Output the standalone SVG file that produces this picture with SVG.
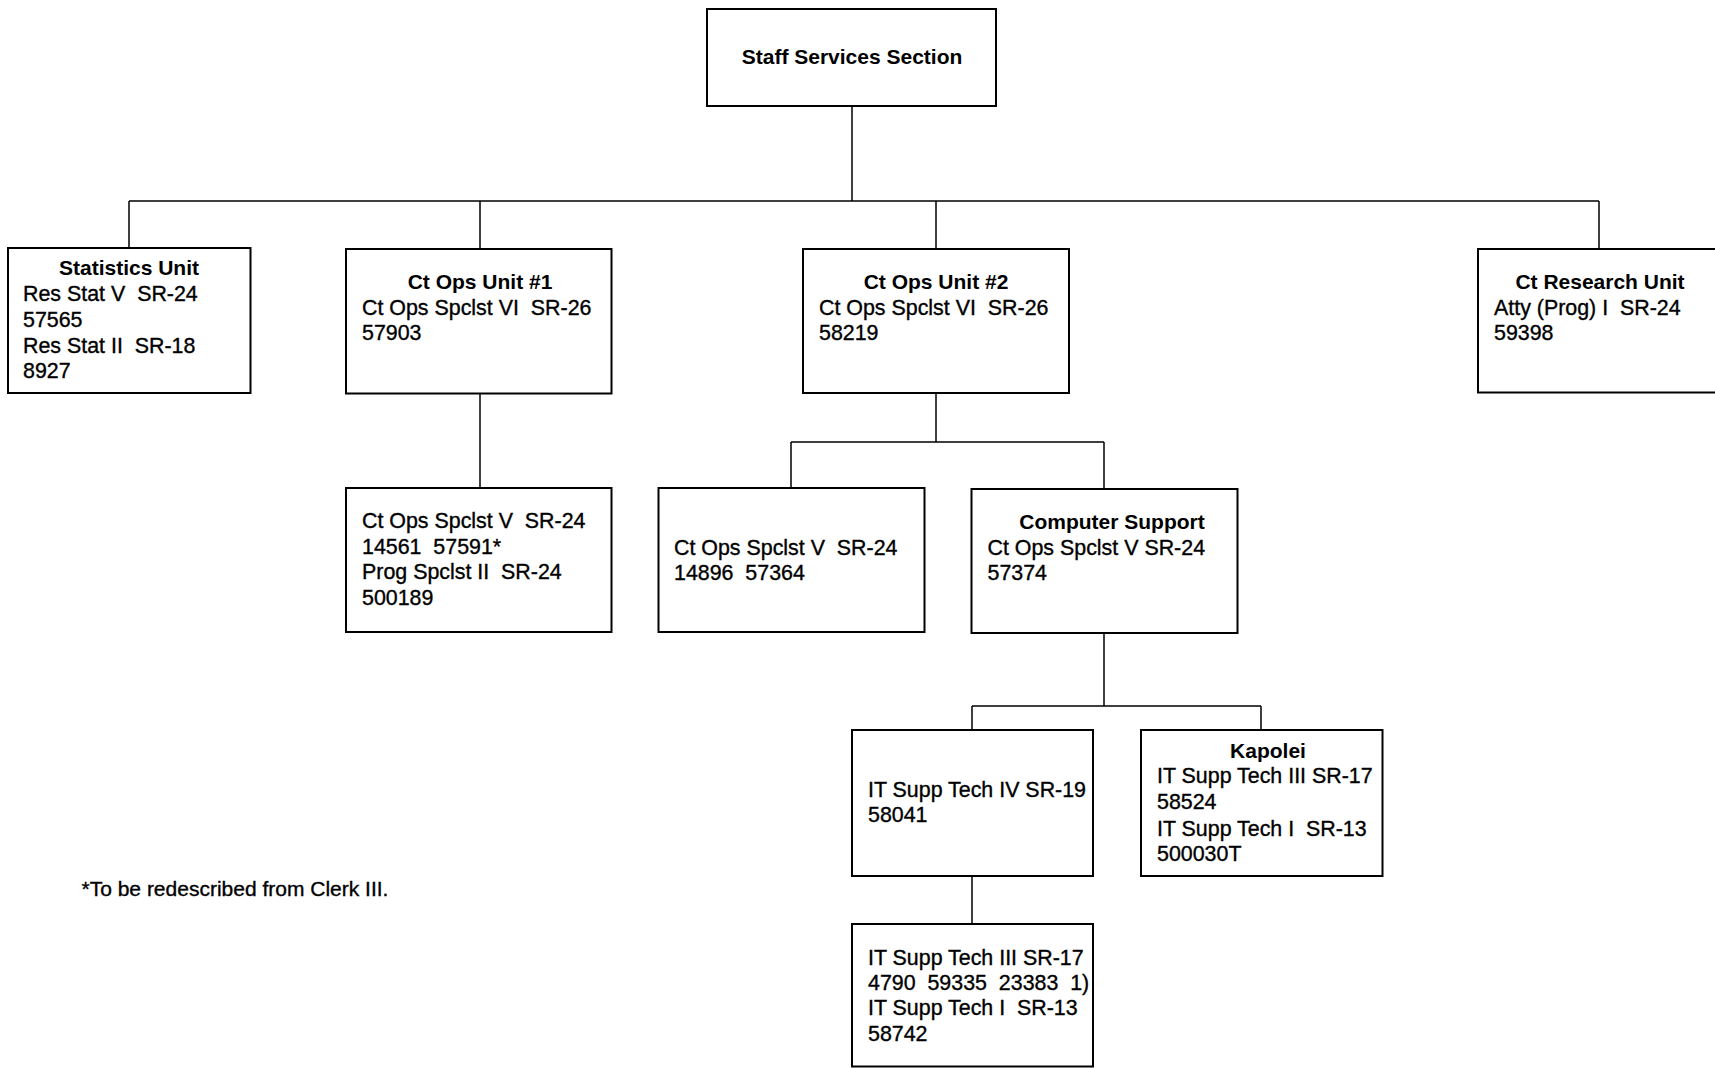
<svg xmlns="http://www.w3.org/2000/svg" width="1715" height="1068" viewBox="0 0 1715 1068" xml:space="preserve">
<style>
  .box { fill: #fff; stroke: #000; stroke-width: 2; }
  .conn { fill: none; stroke: #000; stroke-width: 1.5; }
  text { font-family: "Liberation Sans", Arial, sans-serif; font-size: 21.4px; fill: #000; white-space: pre; }
  .t { font-weight: bold; font-size: 21px; text-anchor: middle; }
  .b { stroke: #000; stroke-width: 0.35; }
  .note { font-size: 21px; }
</style>
<rect x="0" y="0" width="1715" height="1068" fill="#fff"/>
<g id="connectors">
  <path class="conn" d="M852 106 V201 M129 201 H1599 M129 201 V248 M480 201 V249 M936 201 V249 M1599 201 V249"/>
  <path class="conn" d="M480 393 V488"/>
  <path class="conn" d="M936 393 V442 M791 442 H1104 M791 442 V488 M1104 442 V488"/>
  <path class="conn" d="M1104 632 V706 M972 706 H1261 M972 706 V730 M1261 706 V730"/>
  <path class="conn" d="M972 876 V924"/>
</g>
<g id="staff-services">
  <rect class="box" x="707" y="9" width="289" height="97"/>
  <text class="t" x="852" y="64">Staff Services Section</text>
</g>
<g id="statistics-unit">
  <rect class="box" x="8" y="248" width="242.5" height="145"/>
  <text class="t" x="129" y="275">Statistics Unit</text>
  <text class="b" x="23" y="301">Res Stat V  SR-24</text>
  <text class="b" x="23" y="326.5">57565</text>
  <text class="b" x="23" y="352.5">Res Stat II  SR-18</text>
  <text class="b" x="23" y="378">8927</text>
</g>
<g id="ct-ops-unit-1">
  <rect class="box" x="346" y="249" width="265.5" height="144.5"/>
  <text class="t" x="480" y="289">Ct Ops Unit #1</text>
  <text class="b" x="362" y="314.5">Ct Ops Spclst VI  SR-26</text>
  <text class="b" x="362" y="339.5">57903</text>
</g>
<g id="ct-ops-unit-2">
  <rect class="box" x="803" y="249" width="266" height="144"/>
  <text class="t" x="936" y="289">Ct Ops Unit #2</text>
  <text class="b" x="819" y="314.5">Ct Ops Spclst VI  SR-26</text>
  <text class="b" x="819" y="339.5">58219</text>
</g>
<g id="ct-research-unit">
  <rect class="box" x="1478" y="249" width="260" height="143.5"/>
  <text class="t" x="1600" y="289">Ct Research Unit</text>
  <text class="b" x="1494" y="314.5">Atty (Prog) I  SR-24</text>
  <text class="b" x="1494" y="339.5">59398</text>
</g>
<g id="ct-ops-spclst-v-unit1">
  <rect class="box" x="346" y="488" width="265.5" height="144"/>
  <text class="b" x="362" y="528">Ct Ops Spclst V  SR-24</text>
  <text class="b" x="362" y="553.5">14561  57591*</text>
  <text class="b" x="362" y="579">Prog Spclst II  SR-24</text>
  <text class="b" x="362" y="604.5">500189</text>
</g>
<g id="ct-ops-spclst-v-unit2">
  <rect class="box" x="658.5" y="488" width="266" height="144"/>
  <text class="b" x="674" y="554.5">Ct Ops Spclst V  SR-24</text>
  <text class="b" x="674" y="579.5">14896  57364</text>
</g>
<g id="computer-support">
  <rect class="box" x="971.5" y="489" width="266" height="144"/>
  <text class="t" x="1112" y="529">Computer Support</text>
  <text class="b" x="987.5" y="554.5">Ct Ops Spclst V SR-24</text>
  <text class="b" x="987.5" y="580">57374</text>
</g>
<g id="it-supp-tech-iv">
  <rect class="box" x="852" y="730" width="241" height="146"/>
  <text class="b" x="868" y="797">IT Supp Tech IV SR-19</text>
  <text class="b" x="868" y="822">58041</text>
</g>
<g id="kapolei">
  <rect class="box" x="1141" y="730" width="241.5" height="146"/>
  <text class="t" x="1268" y="758">Kapolei</text>
  <text class="b" x="1157" y="783">IT Supp Tech III SR-17</text>
  <text class="b" x="1157" y="809">58524</text>
  <text class="b" x="1157" y="835.5">IT Supp Tech I  SR-13</text>
  <text class="b" x="1157" y="860.5">500030T</text>
</g>
<g id="it-supp-tech-iii">
  <rect class="box" x="852" y="924" width="241" height="142.5"/>
  <text class="b" x="868" y="964.5">IT Supp Tech III SR-17</text>
  <text class="b" x="868" y="990">4790  59335  23383  1)</text>
  <text class="b" x="868" y="1015">IT Supp Tech I  SR-13</text>
  <text class="b" x="868" y="1041">58742</text>
</g>
<g id="footnote">
  <text class="note b" x="81.5" y="896">*To be redescribed from Clerk III.</text>
</g>
</svg>
